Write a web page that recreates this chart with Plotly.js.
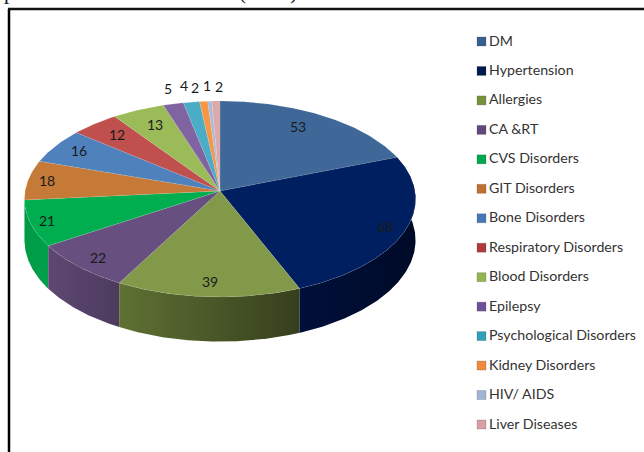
<!DOCTYPE html>
<html><head><meta charset="utf-8">
<script src="https://cdn.plot.ly/plotly-3.0.1.min.js"></script>
<style>html,body{margin:0;padding:0;background:#fff}#c{width:644px;height:452px}</style>
</head><body><div id="c"></div>
<script>
const categories = ["DM","Hypertension","Allergies","CA &RT","CVS Disorders","GIT Disorders","Bone Disorders","Respiratory Disorders","Blood Disorders","Epilepsy","Psychological Disorders","Kidney Disorders","HIV/ AIDS","Liver Diseases"];
const cases = [53,68,39,22,21,18,16,12,13,5,4,2,1,2];
const topColors = ["#3f6898","#001f60","#82994a","#67507f","#00ae50","#c67a37","#4f81bd","#c0504d","#9bbb59","#8064a2","#4bacc6","#f79646","#aabbd9","#dca9aa"];
const swatchColors = ["#376092","#001a50","#76923c","#5f497a","#00a84c","#c0702f","#4478b8","#b03a3a","#93b550","#70509a","#31a0b8","#f08a3c","#a0b4d4","#d8a0a4"];
const sideStart = {1:"#00103a",2:"#5f7134",3:"#5e4872",4:"#009a45"};
const sideEnd   = {1:"#000a28",2:"#363f1c",3:"#4d3b5e",4:"#00a04a"};
const labelNudgeX = [-1,28,-1,-18,-32,-29,-16,-8,-3,-3,-6,-8,-2,3];
const labelNudgeY = [-7,6,13,11,5,-2,-6,-5,-5,-11,-12,-9,-11,-10];

// perspective pie geometry, in the pixel-sized data units of the hidden axes
const cx=220, cy=191, R=194.9, K=97.3, A=0.0816, depth=41;
function proj(deg,r){
  const t=deg*Math.PI/180, X=r*Math.sin(t), Y=r*Math.cos(t), s=1/(1+A*Y);
  return {x:cx+R*X*s, y:cy-K*Y*s, s:s};
}
function arc(a,b){ const p=[]; const n=Math.max(2,Math.ceil((b-a)*2));
  for(let i=0;i<=n;i++) p.push(proj(a+(b-a)*i/n,1)); return p; }

const total=cases.reduce((a,b)=>a+b,0);
let cum=0;
const spans=cases.map(v=>{const a=cum/total*360; cum+=v; return [a,cum/total*360];});

const traces=[];
// side walls
[4,3,2,1].forEach(i=>{
  const p=arc(spans[i][0],spans[i][1]);
  const xs=p.map(q=>q.x).concat(p.slice().reverse().map(q=>q.x));
  const ys=p.map(q=>q.y).concat(p.slice().reverse().map(q=>q.y+depth*q.s));
  traces.push({type:"scatter",mode:"lines",x:xs,y:ys,fill:"toself",line:{width:0,color:sideStart[i]},
    fillgradient:{type:"horizontal",colorscale:[[0,sideStart[i]],[1,sideEnd[i]]]},
    hoverinfo:"skip",showlegend:false});
});
// top faces
cases.forEach((v,i)=>{
  const p=arc(spans[i][0],spans[i][1]);
  const c=proj(0,0);
  traces.push({type:"scatter",mode:"lines",name:categories[i],
    x:[c.x].concat(p.map(q=>q.x),[c.x]), y:[c.y].concat(p.map(q=>q.y),[c.y]),
    fill:"toself",fillcolor:topColors[i],line:{width:0.4,color:"rgba(255,255,255,0.25)"},
    text:categories[i]+": "+v,hoverinfo:"text",showlegend:false});
});
// legend column: swatches, then their names
const rowY=categories.map((_,i)=>41.5+i*29.46);
traces.push({type:"scatter",mode:"markers",
  x:categories.map(()=>481.5), y:rowY,
  marker:{symbol:"square",size:9,color:swatchColors,line:{width:0.6,color:"rgba(60,60,60,0.35)"}},
  hoverinfo:"skip",showlegend:false});
traces.push({type:"scatter",mode:"text",
  x:categories.map(()=>489), y:rowY.map(v=>v+0.5),
  text:categories,textposition:"middle right",
  textfont:{family:"Lato, 'Open Sans', sans-serif",size:14.2,color:"#333"},
  hoverinfo:"skip",showlegend:false});

const annotations=cases.map((v,i)=>{
  const mid=(spans[i][0]+spans[i][1])/2, q=proj(mid,i<9?0.75:1.06);
  return {x:q.x,y:q.y,xref:"x",yref:"y",text:String(v),showarrow:false,
    xshift:labelNudgeX[i],yshift:-labelNudgeY[i],
    font:{family:"Lato, 'Open Sans', sans-serif",size:14,color:"#1a1a1a"}};
});
annotations.push({xref:"x",yref:"y",x:3,y:5,xanchor:"left",yanchor:"bottom",showarrow:false,borderpad:0,
  text:"periodontal disease\u00a0\u00a0\u00a0\u00a0\u00a0\u00a0\u00a0\u00a0\u00a0\u00a0\u00a0\u00a0\u00a0\u00a0(cases)",
  font:{family:"'Liberation Serif', serif",size:21,color:"#111"}});

const layout={width:644,height:452,margin:{l:0,r:0,t:0,b:0},paper_bgcolor:"#fff",plot_bgcolor:"#fff",
  xaxis:{visible:false,range:[0,644],fixedrange:true},
  yaxis:{visible:false,range:[452,0],fixedrange:true},
  showlegend:false,annotations:annotations,
  shapes:[
    {type:"line",xref:"x",yref:"y",x0:9,x1:9,y0:9,y1:452,line:{color:"#000",width:2.5}},
    {type:"line",xref:"x",yref:"y",x0:8,x1:644,y0:9,y1:9,line:{color:"#111",width:2.5}}
  ]};
Plotly.newPlot("c",traces,layout,{displayModeBar:false,staticPlot:true});
</script></body></html>
